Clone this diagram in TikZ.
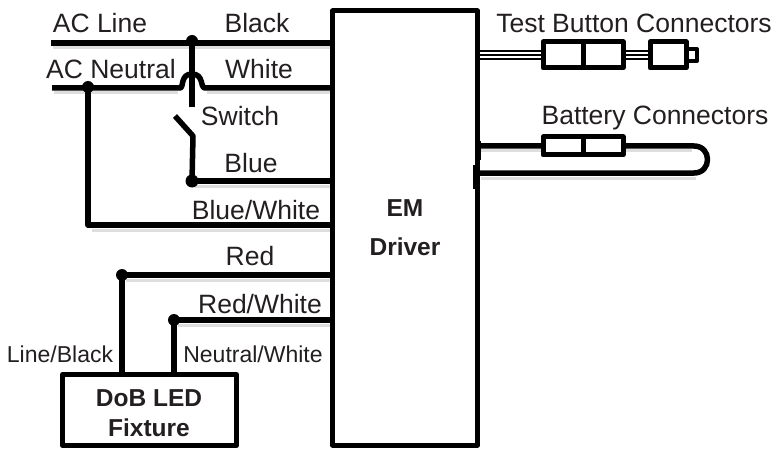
\documentclass[tikz,border=0pt]{standalone}
\usepackage{fontspec}
\setmainfont{Liberation Sans}
\definecolor{ink}{HTML}{231F20}
\tikzset{
  wire/.style={draw=black,line width=5.5pt,line join=round},
  shade/.style={draw=black!13,line width=3pt},
  thinwire/.style={draw=black,line width=1.1pt},
  boxed/.style={draw=black,line width=5pt,fill=white,inner sep=0pt,line join=round},
  lab/.style={text=ink,font=\fontsize{26.5}{30}\selectfont,inner sep=0pt,anchor=base},
  smalllab/.style={text=ink,font=\fontsize{23}{26}\selectfont,inner sep=0pt,anchor=base},
  boldlab/.style={text=ink,font=\bfseries\fontsize{24.5}{30}\selectfont,align=center,inner sep=0pt},
  dotnode/.style={circle,fill=black,inner sep=0pt,minimum size=12pt},
}
\begin{document}
\begin{tikzpicture}[x=1pt,y=-1pt]
\useasboundingbox (0,0) rectangle (775,449);
% named points
\coordinate (lineS) at (51,43);
\coordinate (neutS) at (52,88);
\coordinate (blackE) at (332,43);
\coordinate (whiteE) at (332,88);
\coordinate (hopL) at (180,88);
\coordinate (hopR) at (205,88);
\coordinate (swTop) at (192,107);
\coordinate (swBlade) at (175,116);
\coordinate (swHinge) at (193,136);
\coordinate (bwCorner) at (88,225);
\coordinate (bwE) at (332,225);
\coordinate (blueE) at (332,181);
\coordinate (redE) at (332,275);
\coordinate (rwE) at (332,320);
\coordinate (batA) at (477,146);
\coordinate (batB) at (477,173);
\coordinate (batC) at (694,146);
\coordinate (batD) at (694,173);
% nodes at junctions
\coordinate (pA) at (192,41);
\coordinate (pN) at (88,87);
\coordinate (pB) at (192,181);
\coordinate (pR) at (122,275);
\coordinate (pW) at (174,320);
% faint shadows
\draw[shade] (53,48)--(330,48);
\draw[shade] (54,93)--(178,93) (207,93)--(330,93);
\draw[shade] (92,230)--(330,230);
\draw[shade] (195,186)--(330,186);
\draw[shade] (126,280)--(330,280);
\draw[shade] (178,325)--(330,325);
\draw[shade] (481,178)--(696,178);
\draw[shade] (481,151)--(692,151);
% main box
\node[boxed,minimum width=145pt,minimum height=434pt] (em) at (405,228) {};
\node[boldlab] at (405,228) {EM\\[9pt]Driver};
% AC wires
\draw[wire] (lineS) -- (blackE);
\draw[wire] (neutS) -- (hopL) .. controls (184,88) and (180,74) .. (192,74) .. controls (204,74) and (200,88) .. (hopR) -- (whiteE);
\draw[wire] (pA) -- (swTop);
\draw[wire] (swBlade) -- (swHinge) -- (pB);
\draw[wire] (pB) -- (blueE);
\draw[wire] (pN) -- (bwCorner) -- (bwE);
% fixture
\node[boxed,minimum width=174pt,minimum height=71pt] (fix) at (149.5,410) {};
\node[boldlab] at (149,413) {DoB LED\\Fixture};
\draw[wire] (pR) -- (redE);
\draw[wire] (pR) -- (pR |- fix.north);
\draw[wire] (pW) -- (rwE);
\draw[wire] (pW) -- (pW |- fix.north);
\node[dotnode] (dA) at (pA) {};
\node[dotnode] (dN) at (pN) {};
\node[dotnode,minimum size=13pt] (dB) at (pB) {};
\node[dotnode] (dR) at (pR) {};
\node[dotnode] (dW) at (pW) {};
% test connector
\node[boxed,minimum width=40pt,minimum height=26pt] (t1) at (563,55) {};
\node[boxed,minimum width=40pt,minimum height=26pt] (t2) at (603,55) {};
\node[boxed,line width=4pt,minimum width=10pt,minimum height=12pt] (nub) at (692,55) {};
\node[boxed,minimum width=36pt,minimum height=26pt] (btn) at (668,55) {};
\foreach \d in {-4,0,4}{
  \draw[thinwire] ([yshift=\d pt]t1.west) -- ([yshift=\d pt]t1.west -| em.east);
  \draw[thinwire] ([yshift=\d pt]t2.east) -- ([yshift=\d pt]btn.west);
}
% battery connector
\draw[wire] (batA) -- (batC) .. controls (712,146) and (712,173) .. (batD) -- (batB);
\node[boxed,minimum width=40pt,minimum height=18pt] (b1) at (563,146) {};
\node[boxed,minimum width=40pt,minimum height=18pt] (b2) at (603,146) {};
\draw[line width=6.5pt] (478,141) -- (478,160);
\draw[line width=6.5pt] (476,165) -- (476,189);
% labels
\node[lab] at (100,33) {AC Line};
\node[lab] at (257,33) {Black};
\node[lab] at (111,79) {AC Neutral};
\node[lab] at (259,79) {White};
\node[lab] at (240,126) {Switch};
\node[lab] at (251,172) {Blue};
\node[lab] at (256,219) {Blue/White};
\node[lab] at (250,265) {Red};
\node[lab] at (260,313) {Red/White};
\node[smalllab] at (60,362) {Line/Black};
\node[smalllab] at (253,362) {Neutral/White};
\node[lab] at (634,33) {Test Button Connectors};
\node[lab] at (655,125) {Battery Connectors};
\end{tikzpicture}
\end{document}
